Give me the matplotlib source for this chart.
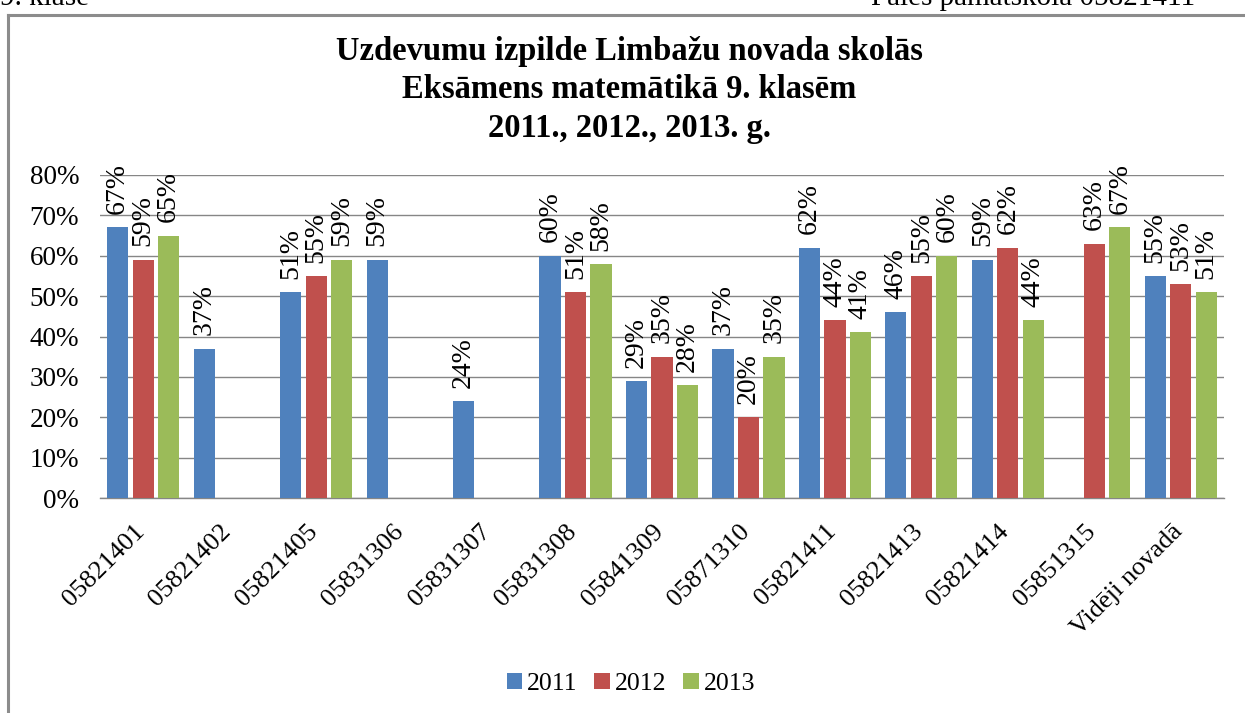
import matplotlib
matplotlib.use("Agg")
import matplotlib.pyplot as plt
import numpy as np
from matplotlib.lines import Line2D
from matplotlib.patches import Patch
from matplotlib.transforms import ScaledTranslation

categories = ["05821401", "05821402", "05821405", "05831306", "05831307", "05831308",
              "05841309", "05871310", "05821411", "05821413", "05821414", "05851315",
              "Vidēji novadā"]
series_names = ["2011", "2012", "2013"]
v2011 = [67, 37, 51, 59, 24, 60, 29, 37, 62, 46, 59, None, 55]
v2012 = [59, None, 55, None, None, 51, 35, 20, 44, 55, 62, 63, 53]
v2013 = [65, None, 59, None, None, 58, 28, 35, 41, 60, 44, 67, 51]
yticks = [0, 10, 20, 30, 40, 50, 60, 70, 80]
colors = ["#4F81BD", "#C0504D", "#9BBB59"]

plt.rcParams['font.family'] = ['Liberation Serif', 'DejaVu Serif']

fig = plt.figure(figsize=(12.45, 7.13), dpi=100)
W, H = 1245, 713
ax = fig.add_axes([100 / W, 1 - 498 / H, (1224 - 100) / W, (498 - 175) / H])

x = np.arange(len(categories))
pitch = 0.295
bw = 0.245
for i, (vals, col) in enumerate(zip([v2011, v2012, v2013], colors)):
    off = (i - 1) * pitch
    for xi, v in zip(x, vals):
        if v is None:
            continue
        ax.bar(xi + off, v, width=bw, color=col, edgecolor='none', zorder=3)
        ax.text(xi + off, v + 3.3, f"{v}%", rotation=90, ha='center', va='bottom',
                fontsize=20, zorder=4)

ax.set_xlim(-0.5, len(categories) - 0.5)
ax.set_ylim(0, 80)
ax.set_yticks(yticks)
ax.set_yticklabels([f"{t}%" for t in yticks], fontsize=19.5)
ax.yaxis.grid(True, color='#868686', linewidth=1.0, zorder=0)
ax.set_axisbelow(True)
for s in ['left', 'right', 'top']:
    ax.spines[s].set_visible(False)
ax.spines['bottom'].set_color('#868686')
ax.spines['bottom'].set_linewidth(1.0)
ax.tick_params(axis='y', length=0, pad=15)
ax.tick_params(axis='x', length=0, pad=0)
ax.set_xticks(x)
ax.set_xticklabels(categories, rotation=45, ha='right', va='center', rotation_mode='anchor',
                   fontsize=19)
offset = ScaledTranslation(-2 / 100, -30 / 100, fig.dpi_scale_trans)
for lab in ax.get_xticklabels():
    lab.set_transform(lab.get_transform() + offset)

fig.text(629 / W, 1 - 36 / H,
         "Uzdevumu izpilde Limbažu novada skolās\nEksāmens matemātikā 9. klasēm\n2011., 2012., 2013. g.",
         ha='center', va='top', fontsize=23.5, fontweight='bold', linespacing=1.31)

handles = [Patch(facecolor=c, edgecolor='none') for c in colors]
fig.legend(handles, series_names, loc='center', bbox_to_anchor=(631 / W, 1 - 684 / H),
           ncol=3, frameon=False, fontsize=18.5, handlelength=0.6, handleheight=0.6,
           handletextpad=0.2, columnspacing=0.65)

# border of chart frame
fig.add_artist(Line2D([8 / W, 8 / W], [0, 1 - 15 / H], color='#8c8c8c', linewidth=2.2,
                      transform=fig.transFigure))
fig.add_artist(Line2D([8 / W, 1], [1 - 15 / H, 1 - 15 / H], color='#8c8c8c', linewidth=2.2,
                      transform=fig.transFigure))

# page header (partially cut)
fig.text(0 / W, 1 - 5 / H, "9. klase", ha='left', va='baseline', fontsize=21)
fig.text(1195 / W, 1 - 5 / H, "Pāles pamatskola 05821411", ha='right', va='baseline', fontsize=21)

fig.savefig("out.png", dpi=100)
